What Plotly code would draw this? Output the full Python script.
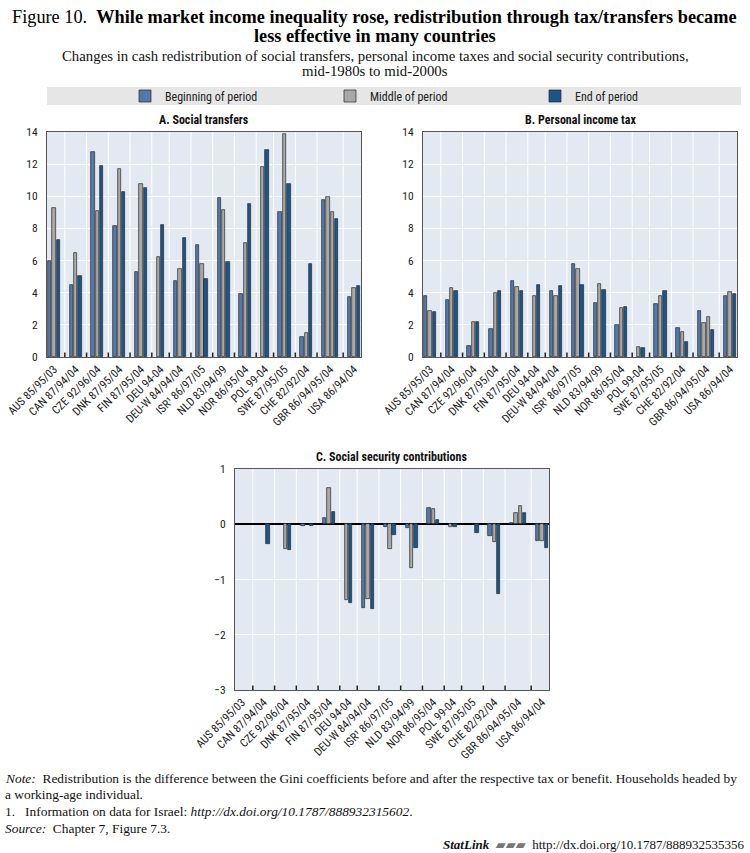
import plotly.graph_objects as go

# ---------------- data ----------------
countries = ["AUS 85/95/03", "CAN 87/94/04", "CZE 92/96/04", "DNK 87/95/04", "FIN 87/95/04",
             "DEU 94-04", "DEU-W 84/94/04", "ISR¹ 86/97/05", "NLD 83/94/99", "NOR 86/95/04",
             "POL 99-04", "SWE 87/95/05", "CHE 82/92/04", "GBR 86/94/95/04", "USA 86/94/04"]
# period of each bar: B = beginning, M = middle, E = end
bar_periods = ["BME", "BME", "BME", "BME", "BME",
               "ME", "BME", "BME", "BME", "BME",
               "ME", "BME", "BME", "BMME", "BME"]

social_transfers = [[6.0, 9.3, 7.25], [4.5, 6.45, 5.05], [12.75, 9.1, 11.9], [8.15, 11.7, 10.25],
                    [5.3, 10.75, 10.5], [6.25, 8.2], [4.7, 5.47, 7.38], [7.0, 5.78, 4.87],
                    [9.92, 9.15, 5.9], [3.92, 7.1, 9.55], [11.85, 12.88], [9.0, 13.9, 10.75],
                    [1.26, 1.52, 5.78], [9.75, 9.97, 9.03, 8.6], [3.75, 4.32, 4.42]]

income_tax = [[3.78, 2.87, 2.8], [3.52, 4.3, 4.1], [0.7, 2.15, 2.15], [1.73, 4.0, 4.12],
              [4.76, 4.37, 4.12], [3.82, 4.45], [4.12, 3.77, 4.42], [5.8, 5.5, 4.5],
              [3.33, 4.55, 4.18], [2.0, 3.05, 3.1], [0.6, 0.58], [3.3, 3.82, 4.1],
              [1.78, 1.55, 0.92], [2.85, 2.12, 2.46, 1.68], [3.77, 4.02, 3.95]]

social_security = [[None, None, None], [None, None, -0.36], [None, -0.45, -0.46], [-0.04, None, -0.03],
                   [0.11, 0.65, 0.22], [-1.37, -1.43], [-1.51, -1.35, -1.54], [-0.05, -0.45, -0.2],
                   [-0.06, -0.8, -0.43], [0.3, 0.28, 0.08], [-0.05, -0.05], [None, None, -0.16],
                   [-0.22, -0.33, -1.26], [0.03, 0.2, 0.33, 0.21], [-0.31, -0.31, -0.43]]

period_names = {"B": "Beginning of period", "M": "Middle of period", "E": "End of period"}
period_colors = {"B": "#5478a8", "M": "#a8a8a8", "E": "#1d5589"}

panel_titles = ["A. Social transfers", "B. Personal income tax", "C. Social security contributions"]

# ---------------- layout of bar slots ----------------
GAP = 2
positions, centers, bounds = [], [], []
pos = 0
for per in bar_periods:
    p = list(range(pos, pos + len(per)))
    positions.append(p)
    centers.append(sum(p) / len(p))
    pos += len(per)
    bounds.append(pos - 1 + (GAP + 1) / 2)
    pos += GAP
bounds = bounds[:-1]
xrange_ = [-0.6, positions[-1][-1] + 0.6]

W, H = 750, 853
def px(v):
    return v / W
def py(v):
    return 1 - v / H

panels = [
    dict(data=social_transfers, xd=[px(47), px(361)], yd=[py(357), py(132)], yr=[0, 14], dt=2, title_y=120),
    dict(data=income_tax, xd=[px(423), px(737)], yd=[py(357), py(132)], yr=[0, 14], dt=2, title_y=120),
    dict(data=social_security, xd=[px(235), px(549)], yd=[py(690), py(469)], yr=[-3, 1], dt=1, title_y=457),
]

NARROW = "Liberation Sans Narrow, Roboto Condensed, Arial Narrow, Roboto, sans-serif"
SERIF = "Liberation Serif, DejaVu Serif, serif"

fig = go.Figure()
shapes = []
annotations = []

for k, pnl in enumerate(panels):
    xa = "x" if k == 0 else f"x{k+1}"
    ya = "y" if k == 0 else f"y{k+1}"
    for code in "BME":
        xs, ys = [], []
        for i, per in enumerate(bar_periods):
            for j, c in enumerate(per):
                if c == code:
                    xs.append(positions[i][j])
                    ys.append(pnl["data"][i][j])
        fig.add_trace(go.Bar(
            x=xs, y=ys, xaxis=xa, yaxis=ya, width=0.78,
            name=period_names[code], legendgroup=code, showlegend=(k == 0),
            marker=dict(color=period_colors[code], line=dict(color="#2a2a2a", width=0.7)),
        ))
    lay_x = "xaxis" if k == 0 else f"xaxis{k+1}"
    lay_y = "yaxis" if k == 0 else f"yaxis{k+1}"
    fig.layout[lay_x] = dict(
        domain=pnl["xd"], anchor=ya, range=xrange_, tickmode="array", automargin=False,
        tickvals=centers, ticktext=countries, tickangle=-45, showgrid=False,
        ticks="", showline=True, mirror=True, linecolor="#555555", linewidth=1,
        zeroline=False, tickfont=dict(family=NARROW, size=11.5, color="#222222"),
        ticklabeloverflow="allow",
    )
    fig.layout[lay_y] = dict(
        domain=pnl["yd"], anchor=xa, range=pnl["yr"], dtick=pnl["dt"], automargin=False,
        showgrid=True, gridcolor="#ffffff", gridwidth=1, ticks="",
        showline=True, mirror=True, linecolor="#555555", linewidth=1,
        zeroline=(k == 2), zerolinecolor="#000000", zerolinewidth=1.5,
        tickfont=dict(family=NARROW, size=11.5, color="#222222"), ticklabelstandoff=6,
    )
    dom_h = (pnl["yd"][1] - pnl["yd"][0]) * H
    for b in bounds:
        shapes.append(dict(type="line", xref=xa, yref=f"{ya} domain", x0=b, x1=b, y0=0, y1=1,
                           line=dict(color="#ffffff", width=1), layer="below"))
        shapes.append(dict(type="line", xref=xa, yref=f"{ya} domain", x0=b, x1=b, y0=0, y1=4.5 / dom_h,
                           line=dict(color="#222222", width=1.5), layer="above"))
    annotations.append(dict(
        text=f"<b>{panel_titles[k]}</b>", xref="paper", yref="paper",
        x=(pnl["xd"][0] + pnl["xd"][1]) / 2, y=py(pnl["title_y"]), xanchor="center", yanchor="middle",
        showarrow=False, font=dict(family=NARROW, size=12, color="#111111"),
    ))

# legend band
shapes.append(dict(type="rect", xref="paper", yref="paper", x0=px(47), x1=px(741), y0=py(105), y1=py(87),
                   fillcolor="#e6e6e6", line=dict(width=0), layer="below"))

# titles
annotations.append(dict(
    text="Figure 10.  <b>While market income inequality rose, redistribution through tax/transfers became</b>",
    xref="paper", yref="paper", x=px(374), y=py(17), xanchor="center", yanchor="middle", showarrow=False,
    font=dict(family=SERIF, size=18.3, color="#000000")))
annotations.append(dict(
    text="<b>less effective in many countries</b>",
    xref="paper", yref="paper", x=px(375), y=py(36), xanchor="center", yanchor="middle", showarrow=False,
    font=dict(family=SERIF, size=18.3, color="#000000")))
annotations.append(dict(
    text="Changes in cash redistribution of social transfers, personal income taxes and social security contributions,",
    xref="paper", yref="paper", x=px(375), y=py(56), xanchor="center", yanchor="middle", showarrow=False,
    font=dict(family=SERIF, size=14.8, color="#111111")))
annotations.append(dict(
    text="mid-1980s to mid-2000s",
    xref="paper", yref="paper", x=px(375), y=py(71), xanchor="center", yanchor="middle", showarrow=False,
    font=dict(family=SERIF, size=14.8, color="#111111")))

# notes
notes = [
    (778, "<i>Note:</i>  Redistribution is the difference between the Gini coefficients before and after the respective tax or benefit. Households headed by"),
    (794, "a working-age individual."),
    (811, "1.   Information on data for Israel: <i>http://dx.doi.org/10.1787/888932315602</i>."),
    (828, "<i>Source:</i>  Chapter 7, Figure 7.3."),
]
for yv, t in notes:
    annotations.append(dict(text=t, xref="paper", yref="paper", x=px(3), y=py(yv), xanchor="left",
                            yanchor="middle", showarrow=False, font=dict(family=SERIF, size=13.4, color="#111111")))
annotations.append(dict(
    text="<b><i>StatLink</i></b>  <span style='color:#777'>▰▰▰</span>  http://dx.doi.org/10.1787/888932535356",
    xref="paper", yref="paper", x=px(746), y=py(844), xanchor="right", yanchor="middle", showarrow=False,
    font=dict(family=SERIF, size=13, color="#111111")))

fig.update_layout(
    width=W, height=H, margin=dict(l=0, r=0, t=0, b=0, autoexpand=False),
    paper_bgcolor="#ffffff", plot_bgcolor="#e3e9f2",
    barmode="overlay", bargap=0, shapes=shapes, annotations=annotations,
    legend=dict(orientation="h", x=px(125), y=py(96), xanchor="left", yanchor="middle",
                entrywidth=160, entrywidthmode="pixels", bgcolor="rgba(0,0,0,0)",
                font=dict(family=NARROW, size=12, color="#222222"), traceorder="normal"),
)

fig.write_html("out.html", config={"displayModeBar": False},
               post_script="document.body.style.margin='0';document.body.style.overflow='hidden';")
